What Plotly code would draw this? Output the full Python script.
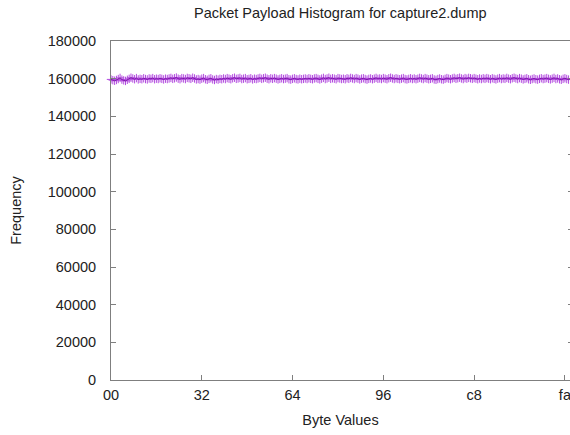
import plotly.graph_objects as go

byte_values = list(range(256))
frequency = [
    159600, 159200, 158900, 159300, 159800, 160400, 159500, 159100, 158800, 159400, 159900, 160500, 160100, 159700, 160300, 159600,
    159900, 159700, 160200, 159800, 159600, 160100, 159900, 160300, 159700, 160000, 159800, 160200, 159900, 159600, 160000, 159800,
    160100, 160400, 159900, 160200, 160600, 160000, 159700, 160300, 160100, 159800, 160400, 160200, 159900, 160500, 160100, 159600,
    159800, 159500, 160000, 160300, 159700, 159400, 159900, 160200, 159600, 159300, 159800, 159500, 159900, 159700, 160100, 159800,
    160300, 160000, 159700, 160200, 160500, 159900, 160100, 160400, 159800, 160000, 160300, 159700, 159900, 160200, 159600, 160000,
    159800, 160100, 160400, 159900, 160200, 160500, 160000, 159700, 160200, 159900, 160300, 160000, 159600, 159900, 160200, 159800,
    160000, 160300, 159700, 159500, 159900, 160200, 159800, 159600, 160000, 159700, 159900, 160100, 159800, 160200, 159900, 159700,
    160100, 160300, 159900, 159600, 160000, 160400, 159800, 160100, 160500, 159900, 160200, 160000, 159700, 160300, 160100, 159800,
    160000, 159700, 160200, 159900, 160400, 160100, 159800, 160300, 160000, 159600, 160000, 160200, 159800, 159500, 159900, 160100,
    159700, 160000, 160400, 159900, 160100, 159800, 160300, 160000, 159700, 160200, 160500, 160100, 159800, 160200, 159900, 159700,
    160000, 160300, 159800, 159600, 159900, 160200, 159800, 160100, 159700, 160000, 160400, 160100, 159800, 160300, 160000, 159700,
    159900, 160200, 159600, 159400, 159800, 160100, 159700, 159500, 159900, 160300, 160000, 159700, 160100, 160400, 159900, 160200,
    160500, 160100, 159800, 160300, 160000, 160400, 160200, 159900, 160300, 160000, 159700, 160100, 159800, 160200, 159900, 160300,
    160000, 159700, 160200, 159900, 159600, 160000, 160300, 159800, 160100, 159900, 160400, 160000, 159700, 160200, 160500, 160100,
    159800, 160300, 160000, 159600, 159900, 160200, 159700, 159400, 159800, 160100, 159700, 159500, 159900, 160200, 159800, 160000,
    160300, 159900, 159600, 160000, 160400, 159800, 160100, 159700, 159400, 159900, 160200, 159800, 159500, 160000, 159700, 159900,
]
x_tick_vals = [0, 50, 100, 150, 200, 250]
x_tick_text = ["00", "32", "64", "96", "c8", "fa"]
y_tick_vals = [0, 20000, 40000, 60000, 80000, 100000, 120000, 140000, 160000, 180000]
y_tick_text = ["0", "20000", "40000", "60000", "80000", "100000", "120000", "140000", "160000", "180000"]
title_text = "Packet Payload Histogram for capture2.dump"
x_title = "Byte Values"
y_title = "Frequency"

FONT = "Liberation Sans, Arial, sans-serif"
PURPLE = "#9400D3"
AXIS = "#7f7f7f"
TXT = "#222"
FS = 14.5

fig = go.Figure()
fig.add_trace(go.Scatter(
    x=byte_values, y=frequency, mode="lines",
    line=dict(color="black", width=0.7), cliponaxis=False, showlegend=False,
))
fig.add_trace(go.Scatter(
    x=byte_values, y=frequency, mode="markers",
    marker=dict(symbol="cross-thin", size=6, line=dict(color=PURPLE, width=1), color=PURPLE),
    opacity=0.7, cliponaxis=False, showlegend=False,
))
fig.add_trace(go.Scatter(x=[None], y=[None], yaxis="y2", showlegend=False, hoverinfo="skip"))

fig.update_layout(
    width=570, height=435,
    margin=dict(l=111, r=0, t=41, b=55, autoexpand=False),
    paper_bgcolor="white", plot_bgcolor="white",
    font=dict(family=FONT, size=FS, color=TXT),
    annotations=[
        dict(text=title_text, x=0.5, xref="paper", y=1.0, yref="paper", yanchor="bottom",
             yshift=18, showarrow=False, font=dict(family=FONT, size=FS, color=TXT)),
    ],
    xaxis=dict(
        range=[0, 252.8], tickvals=x_tick_vals, ticktext=x_tick_text,
        ticks="inside", ticklen=5, tickcolor=AXIS, automargin=False,
        ticklabeloverflow="allow",
        showline=True, linecolor=AXIS, linewidth=1, mirror=True,
        showgrid=False, zeroline=False, ticklabelstandoff=2,
        title=dict(text=x_title, standoff=12, font=dict(family=FONT, size=FS, color=TXT)),
    ),
    yaxis=dict(
        range=[0, 180000], tickvals=y_tick_vals, ticktext=y_tick_text,
        ticks="inside", ticklen=5, tickcolor=AXIS, automargin=False,
        showline=True, linecolor=AXIS, linewidth=1,
        showgrid=False, zeroline=False, ticklabelstandoff=11,
        title=dict(text=y_title, standoff=22, font=dict(family=FONT, size=FS, color=TXT)),
    ),
    yaxis2=dict(
        overlaying="y", side="right", range=[0, 180000], tickvals=y_tick_vals,
        ticks="inside", ticklen=2, tickcolor=AXIS, showticklabels=False, automargin=False,
        showline=False, showgrid=False, zeroline=False,
    ),
)

fig.write_html("out.html", config={"displayModeBar": False},
               post_script="document.body.style.margin='0';document.body.style.overflow='hidden';")
